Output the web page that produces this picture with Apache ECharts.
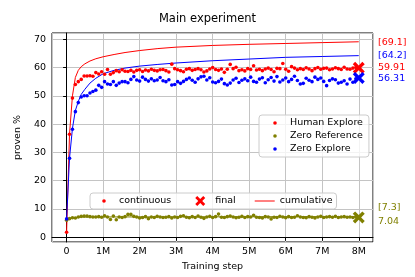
<!DOCTYPE html>
<html><head><meta charset="utf-8">
<script src="https://cdn.jsdelivr.net/npm/echarts@6/dist/echarts.min.js"></script>
<style>html,body{margin:0;padding:0;background:#fff}#c{width:415px;height:277px}</style>
</head><body><div id="c"></div>
<script>
// ---- data ----
const evalEvery = 80000; // one evaluation every 80k training steps
const humanExplore = [
  1.8, 36.4, 49.2, 54.0, 55.0, 55.8, 57.0, 57.0, 57.1, 56.9,
  58.2, 57.7, 58.5, 57.6, 59.3, 57.6, 58.2, 58.9, 58.5, 59.2,
  58.7, 58.6, 59.0, 58.4, 59.0, 59.2, 58.6, 59.1, 58.8, 59.4,
  59.0, 58.8, 59.2, 59.3, 58.9, 58.4, 61.2, 59.6, 59.2, 58.9,
  58.5, 59.4, 59.6, 59.0, 59.3, 59.6, 59.2, 58.4, 58.8, 59.5,
  60.0, 59.3, 59.0, 59.5, 58.3, 59.4, 61.1, 59.6, 60.1, 58.9,
  59.2, 58.8, 59.6, 59.3, 60.6, 59.1, 59.4, 58.9, 59.5, 59.8,
  59.3, 58.5, 59.7, 59.6, 61.4, 59.4, 58.7, 60.3, 59.8, 59.2,
  59.6, 59.3, 59.9, 59.5, 58.9, 59.6, 60.0, 59.4, 59.7, 59.8,
  59.2, 59.5, 59.9, 59.6, 59.3, 60.1, 59.5, 59.4, 59.8, 60.0,
  59.91
];
const zeroReference = [
  6.0, 6.6, 6.9, 6.8, 7.2, 7.4, 7.5, 7.5, 7.3, 7.2,
  7.2, 7.3, 7.1, 7.6, 7.2, 6.3, 7.5, 6.2, 7.2, 7.0,
  7.3, 8.1, 8.1, 7.4, 7.2, 6.8, 7.0, 7.3, 6.6, 7.2,
  7.0, 7.4, 7.2, 7.0, 7.1, 7.3, 6.8, 7.2, 7.0, 7.4,
  7.6, 7.1, 6.9, 7.3, 7.0, 7.5, 7.1, 6.7, 7.2, 7.4,
  7.0, 7.3, 8.2, 7.1, 7.0, 7.3, 7.5, 7.2, 6.9, 7.1,
  7.4, 7.0, 7.3, 7.2, 7.8, 7.1, 7.0, 6.8, 7.3, 7.2,
  6.5, 7.1, 7.0, 7.4, 7.2, 6.9, 7.3, 7.0, 7.1, 7.6,
  7.2, 7.0, 6.9, 7.3, 7.1, 6.8, 7.2, 7.4, 7.0, 7.2,
  7.3, 7.1, 7.4, 7.0, 7.2, 7.3, 7.1, 7.2, 7.0, 7.2,
  7.04
];
const zeroExplore = [
  6.5, 27.9, 38.2, 44.4, 47.6, 49.6, 50.0, 50.0, 51.0, 51.5,
  52.0, 53.7, 53.0, 55.0, 54.2, 54.0, 55.0, 53.7, 54.5, 55.0,
  55.0, 54.6, 55.8, 56.8, 55.6, 55.2, 56.6, 55.8, 55.2, 56.0,
  55.3, 55.6, 56.5, 55.3, 55.0, 55.7, 53.8, 54.0, 55.0, 54.4,
  55.1, 55.8, 56.3, 55.5, 54.8, 56.0, 56.7, 56.9, 55.6, 56.4,
  54.9, 54.6, 55.1, 55.9, 54.3, 53.8, 54.5, 55.6, 56.2, 54.7,
  55.5, 56.0, 55.3, 56.6, 55.1, 54.8, 55.9, 56.4, 54.6, 55.7,
  56.5, 55.2, 56.8, 54.9, 55.6, 56.3, 55.0, 55.8, 56.9, 55.4,
  54.2, 54.4, 56.2, 55.5, 55.0, 56.6, 55.8, 56.3, 55.1, 53.6,
  55.4, 56.0, 55.7, 54.5, 54.8, 55.3, 54.2, 55.9, 54.8, 56.0,
  56.31
];
// cumulative curves, read at these training steps (millions)
const cumStepsM = [0, 0.08, 0.16, 0.24, 0.32, 0.4, 0.5, 0.64, 0.8, 1.0, 1.3, 1.6, 2.0, 2.5, 3.0, 4.0, 5.0, 6.0, 7.0, 8.0];
const cumHuman   = [1.8, 36.5, 50.0, 56.5, 59.0, 60.3, 61.3, 62.3, 63.1, 63.8, 64.6, 65.3, 66.0, 66.7, 67.2, 67.8, 68.2, 68.5, 68.8, 69.1];
const cumZeroRef = [6.0, 6.6, 6.9, 6.95, 7.1, 7.15, 7.15, 7.2, 7.2, 7.2, 7.2, 7.2, 7.2, 7.2, 7.25, 7.25, 7.25, 7.3, 7.3, 7.3];
const cumZeroExp = [6.5, 28.0, 38.5, 44.8, 48.0, 50.5, 52.3, 54.5, 56.2, 57.8, 59.0, 59.8, 60.5, 61.1, 61.6, 62.4, 63.0, 63.6, 63.9, 64.2];
const seriesNames = ['Human Explore', 'Zero Reference', 'Zero Explore'];
const seriesColors = ['#ff0000', '#808000', '#0000ff'];
const legend2Names = ['continuous', 'final', 'cumulative'];

// ---- build ----
const FONT = 'DejaVu Sans';
const pts = arr => arr.map((v, i) => [i * evalEvery, v]);
const cumPts = arr => arr.map((v, i) => [cumStepsM[i] * 1e6, v]);
const continuous = [humanExplore, zeroReference, zeroExplore];
const cumulative = [cumHuman, cumZeroRef, cumZeroExp];
const dotIcon = 'path://M0,0M20,10M11.8,5A1.8,1.8,0,1,1,8.2,5A1.8,1.8,0,1,1,11.8,5Z';
const xIcon = 'path://M0,0M20,10M5,2L7,0L10,3L13,0L15,2L12,5L15,8L13,10L10,7L7,10L5,8L8,5Z';
const lineIcon = 'path://M0,0M20,10M0,4.5L20,4.5L20,5.5L0,5.5Z';
const xSymbol = 'path://M0,2L2,0L5,3L8,0L10,2L7,5L10,8L8,10L5,7L2,10L0,8L3,5Z';

const series = [];
cumulative.forEach((c, k) => series.push({
  name: 'cumulative', type: 'line', data: cumPts(c), symbol: 'none', showSymbol: false, smooth: false,
  lineStyle: {color: seriesColors[k], width: 1}, itemStyle: {color: seriesColors[k]},
  z: 2, silent: true
}));
continuous.forEach((c, k) => series.push({
  name: seriesNames[k], type: 'scatter', data: pts(c), symbol: 'circle', symbolSize: 3.6,
  itemStyle: {color: seriesColors[k], opacity: 1}, z: 3, silent: true
}));
series.push({name: 'continuous', type: 'scatter', data: [], itemStyle: {color: '#ff0000', opacity: 1}});
series.push({
  name: 'final', type: 'scatter', symbol: xSymbol, symbolSize: 12, z: 4, silent: true,
  itemStyle: {color: '#ff0000', opacity: 1},
  data: continuous.map((c, k) => ({value: [(c.length - 1) * evalEvery, c[c.length - 1]], itemStyle: {color: seriesColors[k], opacity: 1}}))
});

const finals = continuous.map(c => c[c.length - 1]);
const cumLast = cumulative.map(c => c[c.length - 1]);
const labelFont = '9.5px "' + FONT + '"';
const sideLabels = [
  {text: '[' + cumLast[0].toFixed(1) + ']', y: 42.5, color: seriesColors[0]},
  {text: '[' + cumLast[2].toFixed(1) + ']', y: 56, color: seriesColors[2]},
  {text: finals[0].toFixed(2), y: 67.7, color: seriesColors[0]},
  {text: finals[2].toFixed(2), y: 79, color: seriesColors[2]},
  {text: '[' + cumLast[1].toFixed(1) + ']', y: 207.7, color: seriesColors[1]},
  {text: finals[1].toFixed(2), y: 221.7, color: seriesColors[1]}
];

const axisCommon = {
  axisLine: {show: true, lineStyle: {color: '#000', width: 1}},
  axisTick: {show: true, inside: false, length: 3.5, lineStyle: {color: '#000', width: 1}},
  splitLine: {show: true, lineStyle: {color: '#c4c4c4', width: 1}},
  nameTextStyle: {fontFamily: FONT, fontSize: 9.5, color: '#000'}
};

const option = {
  animation: false,
  backgroundColor: '#fff',
  title: {
    text: 'Main experiment', left: 'center', top: 13, padding: [0, 0, 0, 10],
    textStyle: {fontFamily: FONT, fontSize: 11.5, fontWeight: 'normal', color: '#000'}
  },
  grid: {left: 52, right: 42, top: 33, bottom: 35, show: true, borderColor: '#000', borderWidth: 1, backgroundColor: 'transparent'},
  xAxis: Object.assign({
    type: 'value', min: -400000, max: 8390000, splitNumber: 9, minInterval: 1000000, maxInterval: 1000000,
    name: 'Training step', nameLocation: 'middle', nameGap: 18,
    axisLabel: {showMinLabel: false, showMaxLabel: false, margin: 5, fontFamily: FONT, fontSize: 9.5, color: '#000',
      formatter: v => v === 0 ? '0' : (v / 1e6) + 'M'}
  }, axisCommon),
  yAxis: Object.assign({
    type: 'value', min: -1.66, max: 72.2, splitNumber: 7, minInterval: 10, maxInterval: 10,
    name: 'proven %', nameLocation: 'middle', nameGap: 24, nameRotate: 90,
    axisLabel: {showMinLabel: false, showMaxLabel: false, margin: 6, fontFamily: FONT, fontSize: 9.5, color: '#000',
      formatter: v => String(Math.round(v))}
  }, axisCommon),
  legend: [
    {
      data: seriesNames.map(n => ({name: n, icon: dotIcon})),
      orient: 'vertical', left: 259, top: 115, itemWidth: 20, itemHeight: 10, itemGap: 3,
      padding: [3, 6, 3, 6], selectedMode: false,
      backgroundColor: 'rgba(255,255,255,0.8)', borderColor: '#cccccc', borderWidth: 1, borderRadius: 3,
      textStyle: {fontFamily: FONT, fontSize: 9.5, color: '#000'}
    },
    {
      data: [{name: legend2Names[0], icon: dotIcon}, {name: legend2Names[1], icon: xIcon}, {name: legend2Names[2], icon: lineIcon}],
      orient: 'horizontal', left: 90, top: 193, itemWidth: 20, itemHeight: 10, itemGap: 19,
      padding: [3, 4, 3, 4], selectedMode: false,
      backgroundColor: 'rgba(255,255,255,0.8)', borderColor: '#cccccc', borderWidth: 1, borderRadius: 3,
      textStyle: {fontFamily: FONT, fontSize: 9.5, color: '#000'}
    }
  ],
  graphic: sideLabels.map(l => ({
    type: 'text', x: 378, y: l.y, silent: true,
    style: {text: l.text, fill: l.color, font: labelFont, align: 'left', verticalAlign: 'middle'}
  })),
  series: series
};

const chart = echarts.init(document.getElementById('c'), null, {renderer: 'canvas'});
chart.setOption(option);
</script>
</body></html>
